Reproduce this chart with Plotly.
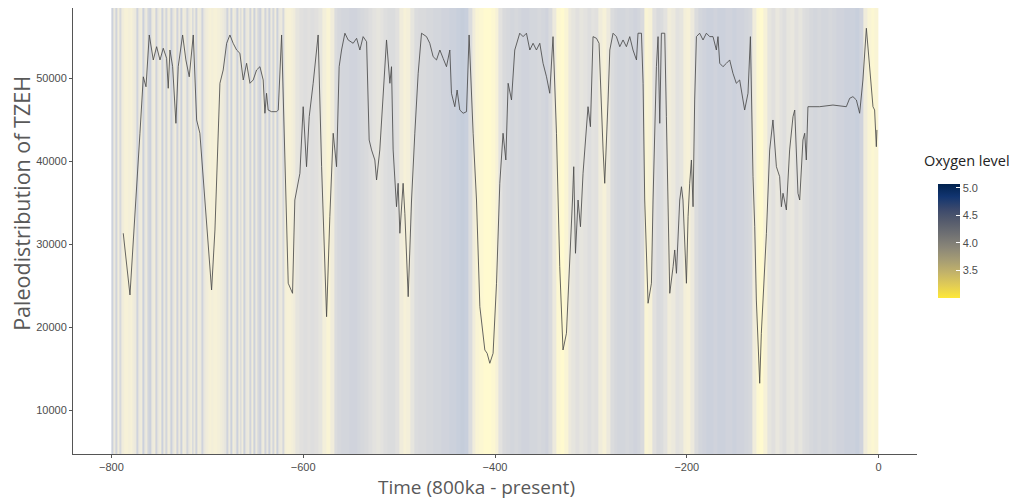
import plotly.graph_objects as go

# ---- Oxygen level background ----
# 2 ka bins from -800 to -608 (finely striped part of the record)
oxygen_early = [
    4.7, 3.6, 4.6, 3.5, 4.4,
    3.5, 3.4, 3.3, 3.3, 3.4, 3.3, 3.5, 3.6,
    4.6, 3.6, 3.5, 4.7, 3.7, 3.5, 4.5, 4.7, 3.6, 3.5,
    4.6, 3.7, 3.5, 4.7, 3.6, 4.5, 3.5, 3.6, 4.7, 3.8,
    3.5, 4.6, 3.6, 4.7, 3.5, 3.6, 4.5, 3.7, 3.5, 4.7,
    3.6, 4.6, 3.5, 3.6, 4.6, 3.7, 3.5,
    3.4, 3.3, 3.4, 3.3, 3.3, 3.4, 3.4, 3.5, 3.6, 3.8,
    4.6, 3.6, 4.7, 3.5, 3.7, 4.7, 3.6, 4.5, 3.5, 4.7,
    3.7, 3.6, 4.6, 3.5, 4.7, 3.6, 4.4, 4.7, 3.6, 3.5,
    4.6, 3.7, 4.7, 3.6, 4.5, 3.5, 4.7, 3.7, 3.6, 4.4,
    3.4, 3.3, 3.3, 3.3, 3.4, 3.5,
]
# 4 ka bins from -608 to 0
oxygen_late = [
    3.8, 4.0,
    4.1, 4.0, 4.1, 4.0, 3.8, 3.4, 3.2, 3.5, 4.2, 4.4,
    4.5, 4.5, 4.6, 4.6, 4.5, 4.4, 4.3, 4.1, 3.9, 3.8,
    3.9, 4.1, 4.2, 4.2, 4.0, 3.5, 3.3, 3.4, 3.8, 4.2,
    4.3, 4.3, 4.4, 4.4, 4.5, 4.5, 4.6, 4.6, 4.7, 4.7,
    4.8, 4.9, 4.8, 4.2, 3.5, 3.2, 3.1, 3.0, 3.0, 3.1,
    3.3, 3.9, 4.3, 4.4, 4.5, 4.4, 4.5, 4.6, 4.6, 4.5,
    4.5, 4.4, 4.5, 4.6, 4.3, 3.6, 3.1, 3.0, 3.2, 3.6,
    3.8, 4.0, 3.8, 3.9, 4.1, 3.9, 4.0, 3.5, 3.3, 3.6,
    4.2, 4.4, 4.5, 4.5, 4.4, 4.5, 4.6, 4.5, 4.3, 3.2,
    3.3, 4.0, 4.3, 4.2, 3.9, 3.5, 3.6, 3.9, 3.8, 3.4,
    3.3, 3.6, 4.2, 4.5, 4.6, 4.7, 4.7, 4.6, 4.7, 4.7,
    4.6, 4.6, 4.7, 4.6, 4.6, 4.5, 4.4, 3.5, 3.1, 3.0,
    3.3, 3.8, 4.0, 3.7, 3.9, 4.1, 3.8, 3.7, 4.0, 3.8,
    4.1, 4.2, 4.4, 4.5, 4.4, 4.5, 4.5, 4.4, 4.5, 4.6,
    4.6, 4.7, 4.7, 4.7, 4.8, 4.6, 3.5, 3.2, 3.1, 3.2,
]
early_start, early_step = -800, 2
late_start, late_step = -608, 4
oxygen_level = oxygen_early + oxygen_late
oxygen_edges = ([early_start + early_step * i for i in range(len(oxygen_early))]
                + [late_start + late_step * i for i in range(len(oxygen_late) + 1)])
oxygen_min, oxygen_max = 3.0, 5.07

# ---- TZEH paleodistribution line ----
tzeh_time = [
    -787.6, -780.6, -770.2, -766.7, -763.9, -760.5, -756.3, -752.8, -749.3, -745.9,
    -742.4, -740.7, -738.9, -736.1, -732.7, -730.3, -725.7, -722.3, -718.8, -714.6,
    -711.1, -707.7, -695.5, -692.0, -686.8, -683.4, -679.8, -676.4, -673.0, -669.4,
    -666.0, -662.5, -659.0, -655.5, -652.1, -648.6, -645.1, -641.7, -639.9, -638.2,
    -636.5, -633.0, -627.7, -626.0, -622.5, -619.1, -615.6, -611.1, -608.7, -603.4,
    -600.0, -596.5, -593.7, -589.6, -584.4, -580.8, -575.6, -572.2, -568.7, -565.2,
    -562.5, -560.0, -556.5, -553.1, -547.9, -544.3, -540.9, -537.5, -533.9, -531.2,
    -528.7, -525.3, -523.5, -520.1, -516.6, -513.1, -509.6, -507.9, -506.2, -502.7,
    -501.0, -499.2, -495.8, -494.0, -490.5, -487.0, -483.6, -480.1, -476.6, -471.4,
    -468.0, -464.5, -461.0, -457.5, -454.1, -450.6, -447.1, -445.4, -441.9, -439.5,
    -436.7, -433.2, -429.7, -427.0, -422.8, -419.3, -415.8, -410.6, -408.2, -405.4,
    -402.0, -398.4, -395.0, -391.6, -388.7, -386.3, -382.8, -379.4, -374.2, -370.7,
    -367.2, -363.7, -360.3, -356.8, -353.3, -349.9, -346.3, -342.9, -339.5, -335.9,
    -332.5, -329.1, -325.5, -322.0, -319.2, -317.9, -316.1, -313.4, -310.9, -308.2,
    -305.4, -303.0, -300.5, -297.8, -294.2, -291.5, -287.3, -285.6, -282.1, -280.3,
    -276.9, -273.4, -269.9, -266.5, -263.0, -259.5, -256.1, -252.5, -250.9, -247.3,
    -245.6, -243.9, -240.4, -236.9, -235.2, -231.7, -230.0, -228.2, -226.5, -223.0,
    -221.3, -217.8, -214.3, -212.6, -210.8, -207.4, -205.6, -204.0, -200.4, -198.7,
    -197.0, -195.2, -193.5, -191.8, -190.0, -186.6, -183.1, -179.6, -176.1, -172.7,
    -169.2, -167.5, -165.7, -162.3, -158.7, -155.3, -151.9, -148.4, -144.9, -141.4,
    -139.7, -136.2, -133.7, -131.0, -129.2, -127.5, -125.8, -124.0, -122.3, -120.6,
    -117.0, -113.6, -110.2, -106.6, -103.2, -101.4, -99.7, -96.2, -92.8, -89.3,
    -87.5, -84.1, -82.3, -78.9, -77.1, -75.4, -73.7, -61.5, -47.6, -33.7,
    -30.2, -26.8, -23.2, -19.8, -16.4, -12.8, -9.4, -5.9, -4.2, -2.4,
    -1.8,
]
tzeh_value = [
    31350, 23920, 43400, 50200, 49000, 55240, 52230, 53830, 52230, 53640,
    52430, 48820, 53430, 51420, 44600, 51420, 55240, 52230, 50200, 55240,
    45000, 43400, 24520, 31750, 49420, 51020, 54240, 55240, 54240, 53430,
    53040, 49820, 51830, 49420, 49820, 51020, 51420, 49820, 45810, 48220,
    46200, 46000, 46000, 46200, 55240, 41390, 25330, 24120, 35360, 38580,
    46600, 39370, 45400, 49420, 55240, 39370, 21300, 33350, 43400, 39370,
    51420, 53430, 55450, 54640, 54240, 54840, 53430, 55040, 54430, 42590,
    41390, 40180, 37770, 41390, 47410, 54640, 49420, 51420, 41390, 34550,
    37370, 31350, 37370, 33760, 23710, 35360, 43400, 50630, 55450, 55040,
    54240, 52630, 52230, 53430, 52430, 51420, 53430, 48220, 46600, 48610,
    46200, 45810, 46000, 55240, 43400, 35360, 22510, 17290, 16890, 15690,
    16890, 25330, 37370, 43400, 40180, 49420, 47410, 53430, 55450, 55040,
    55450, 53430, 54240, 53430, 54240, 51830, 50200, 48220, 55040, 43400,
    27330, 17290, 19300, 27330, 35360, 39370, 28940, 35360, 32140, 38580,
    43400, 46600, 44190, 55040, 54840, 54240, 41390, 37370, 47410, 53430,
    55450, 55040, 53830, 54640, 53830, 55040, 53430, 52230, 55450, 55450,
    49420, 35360, 22920, 25330, 35360, 51420, 55040, 44600, 55450, 55450,
    45400, 24120, 27330, 29340, 26530, 35360, 36960, 35360, 25330, 33350,
    37370, 40180, 34550, 47410, 55040, 55450, 54640, 55450, 55040, 55040,
    53430, 55040, 51830, 51420, 51830, 52230, 50630, 49420, 49820, 47410,
    46200, 48220, 55040, 38170, 32140, 23310, 17290, 13280, 19300, 23310,
    31350, 41390, 45000, 39370, 38170, 34550, 36170, 34160, 41390, 45400,
    46200, 36170, 35360, 42590, 43400, 40180, 46600, 46600, 46800, 46600,
    47610, 47810, 47410, 45810, 49820, 56050, 51420, 46600, 46200, 41780,
    43800,
]

x_ticks = [-800, -600, -400, -200, 0]
y_ticks = [10000, 20000, 30000, 40000, 50000]
x_range = [-840, 40]
y_range = [4760, 58490]

fig = go.Figure()

fig.add_trace(go.Heatmap(
    z=[oxygen_level], x=oxygen_edges, y=y_range,
    colorscale="Cividis", reversescale=True,
    zmin=oxygen_min, zmax=oxygen_max,
    opacity=0.24, showscale=False, hoverinfo="skip",
))

fig.add_trace(go.Scatter(
    x=tzeh_time, y=tzeh_value, mode="lines",
    line=dict(color="#4a4a4a", width=0.85),
    showlegend=False,
))

# colorbar
fig.add_trace(go.Scatter(
    x=[None], y=[None], mode="markers",
    marker=dict(
        color=[oxygen_min, oxygen_max], colorscale="Cividis", reversescale=True,
        cmin=oxygen_min, cmax=oxygen_max, showscale=True,
        colorbar=dict(
            x=1.025, xanchor="left", xref="paper", xpad=0, ypad=0,
            y=0.4776, yanchor="middle",
            len=114, lenmode="pixels", thickness=22,
            outlinewidth=0,
            tickvals=[3.5, 4.0, 4.5, 5.0], ticktext=["3.5", "4.0", "4.5", "5.0"],
            ticks="inside", tickcolor="white", ticklen=4,
            tickfont=dict(family="Liberation Sans, Arial", size=11, color="#4d4d4d"),
        ),
    ),
    showlegend=False, hoverinfo="skip",
))

fig.update_layout(
    width=1009, height=494,
    margin=dict(l=65, r=100, t=0, b=48),
    paper_bgcolor="white", plot_bgcolor="white",
    showlegend=False,
    xaxis=dict(
        range=x_range, tickvals=x_ticks, ticks="outside", ticklen=3,
        tickcolor="#555555", showline=True, linecolor="#555555", linewidth=1,
        showgrid=False, zeroline=False,
        tickfont=dict(family="Liberation Sans, Arial", size=11, color="#4d4d4d"),
    ),
    yaxis=dict(
        range=y_range, tickvals=y_ticks, tickformat="d", ticks="outside", ticklen=3,
        tickcolor="#555555", showline=True, linecolor="#555555", linewidth=1,
        showgrid=False, zeroline=False,
        tickfont=dict(family="Liberation Sans, Arial", size=11, color="#4d4d4d"),
    ),
    annotations=[
        dict(text="Time (800ka - present)", xref="paper", yref="paper",
             x=0.4775, y=-0.074, xanchor="center", yanchor="middle", showarrow=False,
             font=dict(family="Open Sans", size=19, color="#595959")),
        dict(text="Paleodistribution of TZEH", xref="paper", yref="paper",
             x=-0.0604, y=0.561, xanchor="center", yanchor="middle", showarrow=False,
             textangle=-90,
             font=dict(family="Open Sans", size=21.5, color="#595959")),
        dict(text="Oxygen level", xref="paper", yref="paper",
             x=1.059, y=0.658, xanchor="center", yanchor="middle", showarrow=False,
             font=dict(family="Open Sans", size=14.5, color="#222222")),
    ],
)

fig.write_html("out.html")
